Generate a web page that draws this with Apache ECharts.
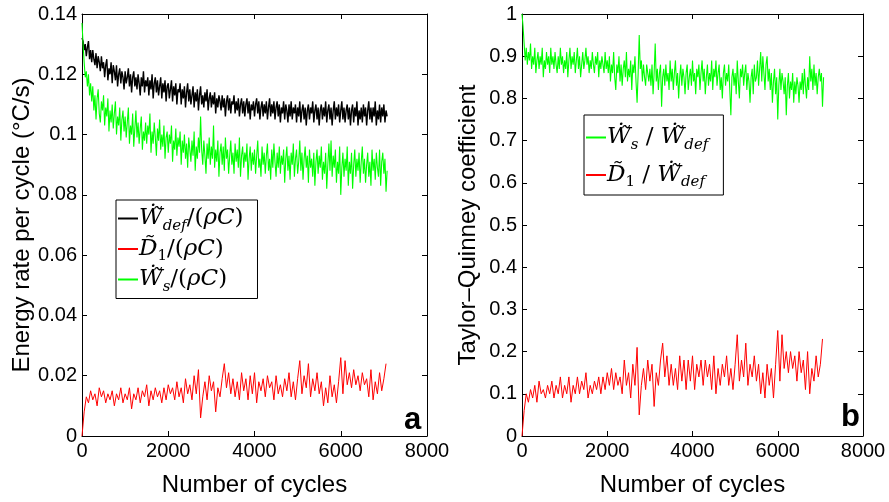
<!DOCTYPE html>
<html><head><meta charset="utf-8">
<script src="https://cdn.jsdelivr.net/npm/echarts@6/dist/echarts.min.js"></script>
<style>html,body{margin:0;padding:0;background:#fff}#c{width:889px;height:502px}</style>
</head><body><div id="c"></div>
<script>
// Number of cycles, fine sampling (25 cycles)
const cyclesFine = [
0,25,50,75,100,125,150,175,200,225,
250,275,300,325,350,375,400,425,450,475,
500,525,550,575,600,625,650,675,700,725,
750,775,800,825,850,875,900,925,950,975,
1000,1025,1050,1075,1100,1125,1150,1175,1200,1225,
1250,1275,1300,1325,1350,1375,1400,1425,1450,1475,
1500,1525,1550,1575,1600,1625,1650,1675,1700,1725,
1750,1775,1800,1825,1850,1875,1900,1925,1950,1975,
2000,2025,2050,2075,2100,2125,2150,2175,2200,2225,
2250,2275,2300,2325,2350,2375,2400,2425,2450,2475,
2500,2525,2550,2575,2600,2625,2650,2675,2700,2725,
2750,2775,2800,2825,2850,2875,2900,2925,2950,2975,
3000,3025,3050,3075,3100,3125,3150,3175,3200,3225,
3250,3275,3300,3325,3350,3375,3400,3425,3450,3475,
3500,3525,3550,3575,3600,3625,3650,3675,3700,3725,
3750,3775,3800,3825,3850,3875,3900,3925,3950,3975,
4000,4025,4050,4075,4100,4125,4150,4175,4200,4225,
4250,4275,4300,4325,4350,4375,4400,4425,4450,4475,
4500,4525,4550,4575,4600,4625,4650,4675,4700,4725,
4750,4775,4800,4825,4850,4875,4900,4925,4950,4975,
5000,5025,5050,5075,5100,5125,5150,5175,5200,5225,
5250,5275,5300,5325,5350,5375,5400,5425,5450,5475,
5500,5525,5550,5575,5600,5625,5650,5675,5700,5725,
5750,5775,5800,5825,5850,5875,5900,5925,5950,5975,
6000,6025,6050,6075,6100,6125,6150,6175,6200,6225,
6250,6275,6300,6325,6350,6375,6400,6425,6450,6475,
6500,6525,6550,6575,6600,6625,6650,6675,6700,6725,
6750,6775,6800,6825,6850,6875,6900,6925,6950,6975,
7000,7025,7050,7075];

// Number of cycles, coarse sampling (50 cycles)
const cyclesCoarse = [
0,50,100,150,200,250,300,350,400,450,
500,550,600,650,700,750,800,850,900,950,
1000,1050,1100,1150,1200,1250,1300,1350,1400,1450,
1500,1550,1600,1650,1700,1750,1800,1850,1900,1950,
2000,2050,2100,2150,2200,2250,2300,2350,2400,2450,
2500,2550,2600,2650,2700,2750,2800,2850,2900,2950,
3000,3050,3100,3150,3200,3250,3300,3350,3400,3450,
3500,3550,3600,3650,3700,3750,3800,3850,3900,3950,
4000,4050,4100,4150,4200,4250,4300,4350,4400,4450,
4500,4550,4600,4650,4700,4750,4800,4850,4900,4950,
5000,5050,5100,5150,5200,5250,5300,5350,5400,5450,
5500,5550,5600,5650,5700,5750,5800,5850,5900,5950,
6000,6050,6100,6150,6200,6250,6300,6350,6400,6450,
6500,6550,6600,6650,6700,6750,6800,6850,6900,6950,
7000,7050];

// Panel a: deformation energy rate per cycle (°C/s), fine sampling
const wdefRate = [
0.132,0.131,0.128,0.130,0.126,0.129,0.131,0.125,0.128,0.124,
0.128,0.125,0.123,0.127,0.122,0.126,0.124,0.121,0.126,0.122,
0.124,0.119,0.123,0.125,0.118,0.122,0.120,0.124,0.117,0.123,
0.121,0.118,0.123,0.116,0.120,0.122,0.117,0.121,0.119,0.115,
0.121,0.117,0.119,0.122,0.116,0.120,0.114,0.119,0.121,0.116,
0.119,0.115,0.120,0.117,0.113,0.119,0.116,0.121,0.114,0.118,
0.116,0.119,0.113,0.118,0.115,0.120,0.112,0.117,0.119,0.114,
0.118,0.113,0.116,0.119,0.112,0.117,0.114,0.118,0.111,0.116,
0.117,0.112,0.115,0.118,0.111,0.116,0.113,0.117,0.110,0.115,
0.114,0.117,0.110,0.115,0.112,0.116,0.109,0.114,0.117,0.111,
0.115,0.110,0.113,0.116,0.109,0.114,0.111,0.115,0.108,0.113,
0.116,0.110,0.113,0.109,0.114,0.111,0.115,0.108,0.112,0.114,
0.109,0.113,0.110,0.114,0.107,0.112,0.109,0.113,0.111,0.108,
0.113,0.109,0.112,0.106,0.111,0.113,0.108,0.112,0.107,0.111,
0.110,0.113,0.107,0.111,0.108,0.112,0.106,0.110,0.112,0.107,
0.111,0.106,0.110,0.112,0.107,0.111,0.105,0.110,0.108,0.111,
0.106,0.110,0.112,0.107,0.111,0.105,0.109,0.111,0.106,0.110,
0.107,0.111,0.105,0.109,0.112,0.106,0.110,0.107,0.111,0.105,
0.109,0.111,0.106,0.110,0.104,0.109,0.107,0.111,0.105,0.110,
0.108,0.104,0.110,0.106,0.111,0.105,0.109,0.107,0.110,0.104,
0.109,0.106,0.111,0.104,0.108,0.110,0.105,0.109,0.103,0.108,
0.110,0.105,0.109,0.107,0.111,0.104,0.108,0.110,0.105,0.109,
0.103,0.108,0.110,0.105,0.109,0.106,0.111,0.104,0.108,0.110,
0.105,0.109,0.103,0.108,0.111,0.105,0.109,0.106,0.110,0.104,
0.108,0.111,0.105,0.109,0.104,0.108,0.110,0.105,0.109,0.103,
0.108,0.110,0.104,0.109,0.106,0.111,0.103,0.108,0.105,0.109,
0.104,0.110,0.106,0.109,0.103,0.108,0.111,0.105,0.109,0.104,
0.109,0.106,0.111,0.103,0.108,0.105,0.110,0.104,0.109,0.106,
0.110,0.104,0.108,0.106];

// Panel a: stored energy rate per cycle (°C/s), fine sampling
const wsRate = [
0.137,0.130,0.124,0.119,0.121,0.116,0.120,0.113,0.117,0.111,
0.116,0.108,0.113,0.105,0.112,0.115,0.107,0.104,0.111,0.108,
0.113,0.103,0.109,0.106,0.112,0.101,0.108,0.104,0.110,0.102,
0.107,0.111,0.100,0.106,0.103,0.109,0.098,0.105,0.108,0.101,
0.106,0.099,0.104,0.109,0.097,0.103,0.100,0.107,0.096,0.102,
0.108,0.099,0.104,0.097,0.102,0.106,0.095,0.101,0.098,0.104,
0.097,0.103,0.100,0.107,0.094,0.101,0.097,0.104,0.099,0.093,
0.102,0.098,0.105,0.095,0.100,0.096,0.103,0.092,0.099,0.101,
0.094,0.100,0.097,0.103,0.091,0.098,0.095,0.102,0.093,0.099,
0.096,0.101,0.090,0.098,0.094,0.100,0.092,0.097,0.089,0.099,
0.095,0.091,0.098,0.093,0.101,0.088,0.096,0.092,0.099,0.094,
0.106,0.095,0.090,0.098,0.093,0.087,0.097,0.092,0.099,0.090,
0.096,0.092,0.103,0.089,0.095,0.091,0.098,0.086,0.094,0.097,
0.090,0.096,0.088,0.099,0.092,0.095,0.087,0.093,0.098,0.090,
0.094,0.087,0.097,0.091,0.095,0.089,0.099,0.086,0.093,0.096,
0.089,0.094,0.091,0.097,0.085,0.092,0.096,0.088,0.094,0.090,
0.095,0.087,0.093,0.098,0.089,0.092,0.086,0.096,0.090,0.094,
0.087,0.093,0.097,0.088,0.092,0.085,0.095,0.089,0.097,0.091,
0.086,0.094,0.089,0.096,0.087,0.093,0.090,0.095,0.084,0.092,
0.096,0.088,0.093,0.085,0.094,0.090,0.097,0.086,0.092,0.095,
0.087,0.091,0.098,0.088,0.094,0.085,0.092,0.096,0.089,0.093,
0.084,0.095,0.089,0.092,0.086,0.094,0.083,0.091,0.095,0.087,
0.093,0.089,0.096,0.085,0.091,0.087,0.094,0.082,0.090,0.097,
0.088,0.098,0.086,0.093,0.089,0.095,0.084,0.091,0.087,0.096,
0.080,0.089,0.094,0.086,0.092,0.088,0.096,0.083,0.091,0.087,
0.094,0.082,0.090,0.095,0.086,0.092,0.088,0.094,0.084,0.091,
0.096,0.087,0.092,0.084,0.090,0.094,0.086,0.091,0.083,0.095,
0.088,0.092,0.085,0.094,0.089,0.086,0.095,0.083,0.091,0.094,
0.087,0.092,0.081,0.088];

// Panel a: dissipation rate per cycle (°C/s), coarse sampling
const d1Rate = [
0.000,0.008,0.013,0.011,0.015,0.012,0.014,0.010,0.016,0.013,
0.015,0.011,0.014,0.012,0.015,0.010,0.014,0.012,0.016,0.011,
0.014,0.012,0.016,0.009,0.014,0.012,0.016,0.011,0.015,0.013,
0.017,0.010,0.015,0.012,0.016,0.013,0.015,0.011,0.016,0.012,
0.017,0.014,0.016,0.012,0.018,0.013,0.016,0.011,0.019,0.014,
0.017,0.012,0.020,0.014,0.022,0.006,0.013,0.018,0.012,0.020,
0.015,0.018,0.008,0.016,0.013,0.019,0.024,0.016,0.021,0.014,
0.019,0.013,0.018,0.012,0.021,0.015,0.019,0.012,0.020,0.014,
0.021,0.011,0.018,0.015,0.019,0.013,0.020,0.016,0.018,0.012,
0.020,0.014,0.017,0.013,0.019,0.015,0.021,0.013,0.018,0.012,
0.019,0.025,0.014,0.020,0.016,0.024,0.013,0.019,0.015,0.021,
0.014,0.018,0.010,0.016,0.011,0.020,0.013,0.017,0.011,0.018,
0.026,0.014,0.025,0.017,0.021,0.016,0.022,0.017,0.020,0.015,
0.021,0.017,0.019,0.013,0.022,0.012,0.018,0.014,0.021,0.015,
0.019,0.024];

// Panel b: Taylor-Quinney coefficients
const wsRatio = [
1.00,0.97,0.93,0.89,0.92,0.88,0.91,0.89,0.93,0.87,
0.90,0.88,0.92,0.86,0.89,0.91,0.87,0.90,0.88,0.92,
0.85,0.89,0.87,0.91,0.88,0.90,0.86,0.92,0.88,0.90,
0.87,0.91,0.88,0.86,0.90,0.87,0.92,0.88,0.90,0.86,
0.89,0.87,0.91,0.85,0.89,0.92,0.87,0.90,0.88,0.91,
0.86,0.89,0.92,0.87,0.90,0.85,0.88,0.91,0.87,0.89,
0.92,0.88,0.90,0.86,0.89,0.87,0.91,0.88,0.86,0.90,
0.88,0.91,0.85,0.89,0.87,0.90,0.88,0.86,0.91,0.87,
0.89,0.86,0.90,0.84,0.88,0.86,0.91,0.85,0.82,0.88,
0.86,0.90,0.84,0.88,0.83,0.87,0.89,0.85,0.91,0.84,
0.87,0.85,0.89,0.82,0.88,0.86,0.90,0.84,0.79,0.86,
0.95,0.87,0.89,0.84,0.88,0.85,0.83,0.88,0.86,0.84,
0.87,0.83,0.88,0.81,0.86,0.93,0.84,0.87,0.82,0.86,
0.88,0.78,0.85,0.87,0.83,0.88,0.84,0.86,0.82,0.89,
0.84,0.87,0.82,0.86,0.89,0.83,0.86,0.80,0.85,0.88,
0.83,0.87,0.85,0.81,0.86,0.88,0.82,0.85,0.87,0.83,
0.89,0.84,0.86,0.81,0.87,0.85,0.88,0.82,0.86,0.89,
0.84,0.87,0.81,0.85,0.88,0.83,0.86,0.84,0.89,0.82,
0.87,0.85,0.89,0.83,0.86,0.88,0.82,0.85,0.80,0.86,
0.88,0.83,0.86,0.84,0.88,0.82,0.76,0.85,0.87,0.83,
0.86,0.81,0.89,0.84,0.80,0.87,0.85,0.88,0.83,0.86,
0.88,0.82,0.86,0.84,0.79,0.85,0.87,0.81,0.88,0.84,
0.85,0.89,0.83,0.87,0.91,0.84,0.90,0.86,0.82,0.88,
0.90,0.84,0.87,0.82,0.86,0.79,0.84,0.87,0.81,0.85,
0.75,0.83,0.87,0.82,0.86,0.84,0.81,0.85,0.76,0.83,
0.86,0.80,0.84,0.82,0.86,0.79,0.84,0.81,0.85,0.83,
0.79,0.84,0.82,0.86,0.81,0.87,0.83,0.80,0.85,0.82,
0.90,0.84,0.87,0.82,0.88,0.83,0.86,0.81,0.85,0.87,
0.84,0.86,0.78,0.85];

const d1Ratio = [
0.00,0.06,0.10,0.08,0.11,0.09,0.12,0.08,0.13,0.10,
0.11,0.09,0.12,0.10,0.13,0.09,0.12,0.10,0.14,0.09,
0.12,0.10,0.14,0.08,0.12,0.10,0.14,0.10,0.13,0.11,
0.15,0.09,0.12,0.10,0.13,0.11,0.14,0.10,0.14,0.11,
0.15,0.12,0.16,0.11,0.15,0.12,0.14,0.10,0.18,0.12,
0.15,0.09,0.17,0.12,0.21,0.05,0.12,0.16,0.11,0.18,
0.13,0.17,0.07,0.15,0.12,0.18,0.22,0.14,0.19,0.12,
0.17,0.12,0.16,0.11,0.19,0.13,0.18,0.11,0.18,0.13,
0.19,0.11,0.17,0.14,0.18,0.12,0.18,0.14,0.17,0.11,
0.19,0.10,0.16,0.12,0.17,0.14,0.19,0.12,0.16,0.11,
0.17,0.24,0.13,0.18,0.14,0.22,0.12,0.17,0.14,0.19,
0.13,0.17,0.10,0.15,0.09,0.17,0.12,0.16,0.09,0.17,
0.25,0.13,0.24,0.16,0.20,0.15,0.20,0.16,0.19,0.13,
0.20,0.15,0.18,0.11,0.20,0.10,0.16,0.13,0.19,0.14,
0.17,0.23];

const xTicks = {min: 0, max: 8000, interval: 2000};
const yTicksA = {min: 0, max: 0.14, interval: 0.02};
const yTicksB = {min: 0, max: 1, interval: 0.1};

const pair = (xs, arr) => xs.map((c, i) => [c, arr[i]]);
const sansFont = '"Liberation Sans", Arial, sans-serif';
const axisLine = {show: true, onZero: false, lineStyle: {color: '#000', width: 1}};
const tick = {show: true, inside: true, length: 5, lineStyle: {color: '#000'}};
const lbl = {color: '#000', fontFamily: sansFont, fontSize: 20};
const nameStyle = {color: '#000', fontFamily: sansFont, fontSize: 24};

function xAx(grid, t, name) {
  return [
    {type: 'value', gridIndex: grid, min: t.min, max: t.max, interval: t.interval, position: 'bottom',
     axisLine, axisTick: tick, splitLine: {show: false},
     axisLabel: Object.assign({margin: 5, formatter: v => String(v)}, lbl),
     name, nameLocation: 'middle', nameGap: 37, nameTextStyle: nameStyle},
    {type: 'value', gridIndex: grid, min: t.min, max: t.max, interval: t.interval, position: 'top',
     axisLine, axisTick: tick, splitLine: {show: false}, axisLabel: {show: false}}
  ];
}
function yAx(grid, t, name, gap) {
  return [
    {type: 'value', gridIndex: grid, min: t.min, max: t.max, interval: t.interval, position: 'left',
     axisLine, axisTick: tick, splitLine: {show: false}, axisLabel: Object.assign({margin: 5}, lbl),
     name, nameLocation: 'middle', nameGap: gap, nameTextStyle: nameStyle},
    {type: 'value', gridIndex: grid, min: t.min, max: t.max, interval: t.interval, position: 'right',
     axisLine, axisTick: tick, splitLine: {show: false}, axisLabel: {show: false}}
  ];
}

const serif = '"DejaVu Serif", serif';
const rich = {
  m: {fontFamily: serif, fontStyle: 'italic', fontSize: 23, color: '#000', lineHeight: 30},
  u: {fontFamily: serif, fontSize: 23, color: '#000', lineHeight: 30},
  s: {fontFamily: serif, fontStyle: 'italic', fontSize: 15, color: '#000', verticalAlign: 'bottom', lineHeight: 17},
  n: {fontFamily: serif, fontSize: 15, color: '#000', verticalAlign: 'bottom', lineHeight: 17}
};
const W = 'W\u0307\u0303', D = 'D\u0303';
const legendText = {
  'Wdef': `{m|${W}}{s|def}{u|/(}{m|ρC}{u|)}`,
  'D1': `{m|${D}}{n|1}{u|/(}{m|ρC}{u|)}`,
  'Ws': `{m|${W}}{s|s}{u|/(}{m|ρC}{u|)}`,
  'Ws ratio': `{m|${W}}{s|s}{u| / }{m|${W}}{s|def}`,
  'D1 ratio': `{m|${D}}{n|1}{u| / }{m|${W}}{s|def}`
};

const line = (name, xi, yi, xs, data, color, width) => ({
  name, type: 'line', xAxisIndex: xi, yAxisIndex: yi, data: pair(xs, data),
  showSymbol: false, symbol: 'none', sampling: null, animation: false,
  lineStyle: {color, width}, itemStyle: {color}
});

const chart = echarts.init(document.getElementById('c'), null, {renderer: 'canvas'});
chart.setOption({
  animation: false,
  backgroundColor: '#fff',
  grid: [
    {left: 82, top: 14, width: 345, height: 422},
    {left: 522, top: 14, width: 341, height: 422}
  ],
  xAxis: [...xAx(0, xTicks, 'Number of cycles'), ...xAx(1, xTicks, 'Number of cycles')],
  yAxis: [...yAx(0, yTicksA, 'Energy rate per cycle (°C/s)', 47), ...yAx(1, yTicksB, 'Taylor–Quinney coefficient', 42)],
  legend: [
    {data: ['Wdef', 'D1', 'Ws'], orient: 'vertical', left: 116, top: 200, padding: [7, 14, 4, 2],
     itemGap: 4, itemWidth: 20, itemHeight: 2, icon: 'rect', backgroundColor: '#fff',
     borderColor: '#000', borderWidth: 1, borderRadius: 0, selectedMode: false,
     formatter: n => legendText[n], textStyle: {rich, padding: [0, 0, 0, -4]}},
    {data: ['Ws ratio', 'D1 ratio'], orient: 'vertical', left: 584, top: 115, padding: [11, 15, 5, 2],
     itemGap: 11, itemWidth: 20, itemHeight: 2, icon: 'rect', backgroundColor: '#fff',
     borderColor: '#000', borderWidth: 1, borderRadius: 0, selectedMode: false,
     formatter: n => legendText[n], textStyle: {rich, padding: [0, 0, 0, -4]}}
  ],
  series: [
    line('Wdef', 0, 0, cyclesFine, wdefRate, '#000000', 1.4),
    line('D1', 0, 0, cyclesCoarse, d1Rate, '#ff0000', 1),
    line('Ws', 0, 0, cyclesFine, wsRate, '#00ff00', 1.1),
    line('Ws ratio', 2, 2, cyclesFine, wsRatio, '#00ff00', 1.1),
    line('D1 ratio', 2, 2, cyclesCoarse, d1Ratio, '#ff0000', 1)
  ],
  graphic: [
    {type: 'text', left: 404, top: 405, z: 10, style: {text: 'a', fontFamily: sansFont, fontWeight: 'bold', fontSize: 31, fill: '#000'}},
    {type: 'text', left: 841, top: 402, z: 10, style: {text: 'b', fontFamily: sansFont, fontWeight: 'bold', fontSize: 31, fill: '#000'}}
  ]
});
</script></body></html>
